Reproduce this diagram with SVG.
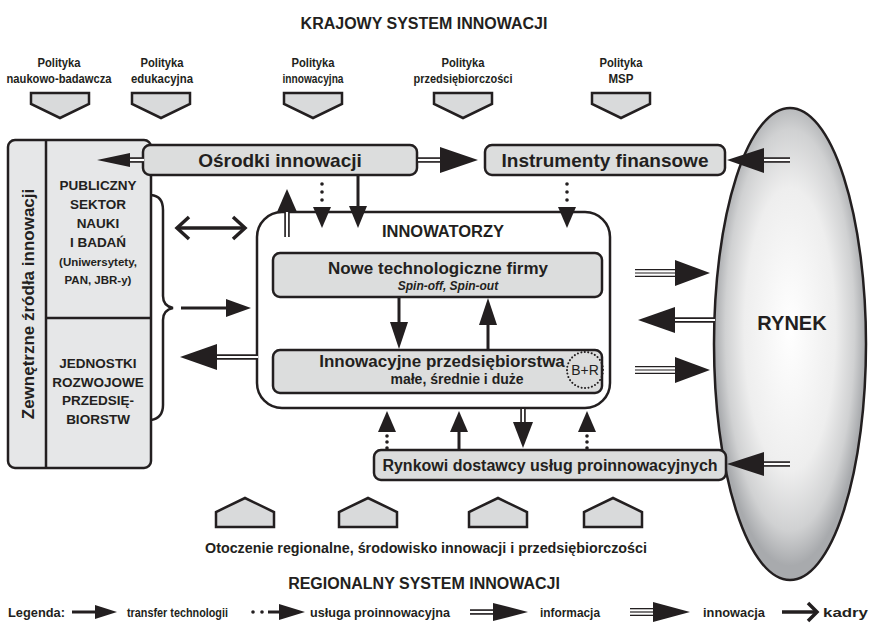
<svg xmlns="http://www.w3.org/2000/svg" width="872" height="632" viewBox="0 0 872 632">
<defs>
<radialGradient id="gR" cx="0.5" cy="0.47" r="0.5">
<stop offset="0" stop-color="#ffffff"/>
<stop offset="0.6" stop-color="#eeeeee"/>
<stop offset="0.85" stop-color="#d0d1d2"/>
<stop offset="1" stop-color="#a8aaad"/>
</radialGradient>
<style>
text{font-family:"Liberation Sans",Arial,sans-serif;font-weight:bold;fill:#231f20}
.c{text-anchor:middle}
.box{fill:#dcdddd;stroke:#231f20;stroke-width:2.5}
.pent{fill:#d9dadb;stroke:#231f20;stroke-width:2.5}
.ln{stroke:#231f20;stroke-width:3;fill:none}
.d1{stroke:#231f20;stroke-width:5.5}
.d2{stroke:#ffffff;stroke-width:2.2}
.t1{stroke:#231f20;stroke-width:8}
.t2{stroke:#ffffff;stroke-width:5.4}
.t3{stroke:#231f20;stroke-width:1.2}
.hd{fill:#231f20}
.kd{stroke:#231f20;stroke-width:3.5;fill:none}
.pol{font-size:13px}
.lg{font-size:13px}
</style>
</defs>
<rect width="872" height="632" fill="#ffffff"/>

<g id="title-krajowy">
<text class="c" x="424" y="29" font-size="16">KRAJOWY SYSTEM INNOWACJI</text>
</g>

<g id="polityka-naukowo">
<text class="c pol" x="59" y="67" textLength="43" lengthAdjust="spacingAndGlyphs">Polityka</text>
<text class="c pol" x="59" y="83" textLength="105" lengthAdjust="spacingAndGlyphs">naukowo-badawcza</text>
<polygon class="pent" points="31,93 89,93 89,104 60,118 31,104"/>
</g>
<g id="polityka-edukacyjna">
<text class="c pol" x="162" y="67" textLength="43" lengthAdjust="spacingAndGlyphs">Polityka</text>
<text class="c pol" x="162" y="83" textLength="62" lengthAdjust="spacingAndGlyphs">edukacyjna</text>
<polygon class="pent" points="132,93 190,93 190,104 161,118 132,104"/>
</g>
<g id="polityka-innowacyjna">
<text class="c pol" x="313" y="67" textLength="43" lengthAdjust="spacingAndGlyphs">Polityka</text>
<text class="c pol" x="313" y="83" textLength="61" lengthAdjust="spacingAndGlyphs">innowacyjna</text>
<polygon class="pent" points="284,93 342,93 342,104 313,118 284,104"/>
</g>
<g id="polityka-przedsiebiorczosci">
<text class="c pol" x="463" y="67" textLength="43" lengthAdjust="spacingAndGlyphs">Polityka</text>
<text class="c pol" x="463" y="83" textLength="99" lengthAdjust="spacingAndGlyphs">przedsiębiorczości</text>
<polygon class="pent" points="434,93 492,93 492,104 463,118 434,104"/>
</g>
<g id="polityka-msp">
<text class="c pol" x="621" y="67" textLength="43" lengthAdjust="spacingAndGlyphs">Polityka</text>
<text class="c pol" x="621" y="83" textLength="25" lengthAdjust="spacingAndGlyphs">MSP</text>
<polygon class="pent" points="592,93 650,93 650,104 621,118 592,104"/>
</g>

<g id="zrodla-zewnetrzne">
<rect x="8" y="140" width="143" height="328" rx="7" fill="#e6e7e8" stroke="#231f20" stroke-width="2.5"/>
<line x1="46" y1="140" x2="46" y2="468" stroke="#231f20" stroke-width="2.5"/>
<line x1="46" y1="318" x2="151" y2="318" stroke="#231f20" stroke-width="2.5"/>
<text class="c" font-size="17" transform="translate(33.5,304) rotate(-90)">Zewnętrzne źródła innowacji</text>
<text class="c" font-size="13.5" x="98" y="190">PUBLICZNY</text>
<text class="c" font-size="13.5" x="98" y="209">SEKTOR</text>
<text class="c" font-size="13.5" x="98" y="228">NAUKI</text>
<text class="c" font-size="13.5" x="98" y="247">I BADAŃ</text>
<text class="c" font-size="11.5" x="98" y="266">(Uniwersytety,</text>
<text class="c" font-size="11.5" x="98" y="284">PAN, JBR-y)</text>
<text class="c" font-size="13.5" x="98" y="368">JEDNOSTKI</text>
<text class="c" font-size="13.5" x="98" y="387">ROZWOJOWE</text>
<text class="c" font-size="13.5" x="98" y="405">PRZEDSIĘ-</text>
<text class="c" font-size="13.5" x="98" y="424">BIORSTW</text>
<path d="M151,195 Q163,196 163,210 L163,296 Q163,306 173,308 Q163,310 163,320 L163,405 Q163,418 151,420" fill="none" stroke="#231f20" stroke-width="2.5"/>
</g>

<g id="osrodki-innowacji">
<rect class="box" x="143" y="145" width="274" height="30" rx="7"/>
<text class="c" font-size="19" x="280" y="167">Ośrodki innowacji</text>
</g>

<g id="instrumenty-finansowe">
<rect class="box" x="485" y="145" width="240" height="30" rx="7"/>
<text class="c" font-size="19" x="605" y="167">Instrumenty finansowe</text>
</g>

<g id="rynek">
<ellipse cx="790" cy="344" rx="76" ry="236" fill="url(#gR)" stroke="#231f20" stroke-width="2.5"/>
<text class="c" font-size="20" x="792" y="330">RYNEK</text>
</g>

<g id="innowatorzy">
<rect x="257" y="212" width="353" height="196" rx="25" fill="#ffffff" stroke="#231f20" stroke-width="2.5"/>
<text class="c" font-size="16.5" x="443" y="237">INNOWATORZY</text>
</g>

<g id="nowe-firmy">
<rect class="box" x="273" y="253" width="329" height="44" rx="7"/>
<text class="c" font-size="17" x="438" y="274">Nowe technologiczne firmy</text>
<text class="c" font-size="12" font-style="italic" x="448" y="290">Spin-off, Spin-out</text>
</g>

<g id="innowacyjne-przedsiebiorstwa">
<rect class="box" x="273" y="350" width="329" height="43" rx="7"/>
<text class="c" font-size="17" x="442" y="367">Innowacyjne przedsiębiorstwa</text>
<text class="c" font-size="14" x="457" y="384">małe, średnie i duże</text>
<circle cx="585" cy="370" r="18" fill="none" stroke="#231f20" stroke-width="2" stroke-dasharray="0.1 3.4" stroke-linecap="round"/>
<text class="c" font-size="14" x="585" y="375" style="font-weight:normal">B+R</text>
</g>

<g id="rynkowi-dostawcy">
<rect class="box" x="374" y="450" width="352" height="30" rx="7"/>
<text class="c" font-size="16" x="550" y="471">Rynkowi dostawcy usług proinnowacyjnych</text>
</g>

<g id="otoczenie-regionalne">
<polygon class="pent" points="216,527 274,527 274,512 245,498 216,512"/>
<polygon class="pent" points="339,527 397,527 397,512 368,498 339,512"/>
<polygon class="pent" points="469,527 527,527 527,512 498,498 469,512"/>
<polygon class="pent" points="584,527 642,527 642,512 613,498 584,512"/>
<text class="c" font-size="14" x="426" y="553" textLength="442" lengthAdjust="spacingAndGlyphs">Otoczenie regionalne, środowisko innowacji i przedsiębiorczości</text>
</g>

<g id="title-regionalny">
<text class="c" font-size="16" x="424" y="589">REGIONALNY SYSTEM INNOWACJI</text>
</g>

<g id="connectors">
<line class="d1" x1="128" y1="160" x2="144" y2="160"/><line class="d2" x1="128" y1="160" x2="144" y2="160"/>
<polygon class="hd" points="97,160 130,153 130,167"/>
<line class="d1" x1="418" y1="160" x2="442" y2="160"/><line class="d2" x1="418" y1="160" x2="442" y2="160"/>
<polygon class="hd" points="440,147 478,160 440,173"/>
<line class="d1" x1="762" y1="160" x2="790" y2="160"/><line class="d2" x1="762" y1="160" x2="790" y2="160"/>
<polygon class="hd" points="727,160 764,148 764,173"/>
<line class="d1" x1="287" y1="210" x2="287" y2="237"/><line class="d2" x1="287" y1="210" x2="287" y2="237"/>
<polygon class="hd" points="287,189 277,212 297,212"/>
<circle class="hd" cx="322" cy="184" r="1.8"/><circle class="hd" cx="322" cy="192" r="1.8"/><circle class="hd" cx="322" cy="200" r="1.8"/>
<polygon class="hd" points="313,207 331,207 322,228"/>
<line class="ln" x1="358" y1="176" x2="358" y2="208"/>
<polygon class="hd" points="349,206 367,206 358,228"/>
<circle class="hd" cx="567" cy="184" r="1.8"/><circle class="hd" cx="567" cy="192" r="1.8"/><circle class="hd" cx="567" cy="200" r="1.8"/>
<polygon class="hd" points="558,207 576,207 567,228"/>
<line class="kd" x1="177" y1="228" x2="245" y2="228"/>
<polyline class="kd" points="189,217 177,228 189,239"/>
<polyline class="kd" points="233,217 245,228 233,239"/>
<line class="ln" x1="181" y1="308" x2="228" y2="308"/>
<polygon class="hd" points="226,299 251,308 226,317"/>
<line class="d1" x1="215" y1="357" x2="258" y2="357"/><line class="d2" x1="215" y1="357" x2="258" y2="357"/>
<polygon class="hd" points="180,357 217,344 217,370"/>
<line class="ln" x1="399" y1="297" x2="399" y2="324"/>
<polygon class="hd" points="390,322 408,322 399,349"/>
<line class="ln" x1="488" y1="350" x2="488" y2="323"/>
<polygon class="hd" points="479,325 497,325 488,298"/>
<line class="t1" x1="635" y1="273" x2="677" y2="273"/><line class="t2" x1="635" y1="273" x2="677" y2="273"/><line class="t3" x1="635" y1="273" x2="677" y2="273"/>
<polygon class="hd" points="675,260 710,273 675,286"/>
<line class="d1" x1="673" y1="320" x2="715" y2="320"/><line class="d2" x1="673" y1="320" x2="715" y2="320"/>
<polygon class="hd" points="638,320 675,307 675,333"/>
<line class="t1" x1="635" y1="370" x2="677" y2="370"/><line class="t2" x1="635" y1="370" x2="677" y2="370"/><line class="t3" x1="635" y1="370" x2="677" y2="370"/>
<polygon class="hd" points="675,357 710,370 675,383"/>
<line class="d1" x1="762" y1="464" x2="790" y2="464"/><line class="d2" x1="762" y1="464" x2="790" y2="464"/>
<polygon class="hd" points="727,464 764,452 764,476"/>
<polygon class="hd" points="387,411 378,432 396,432"/>
<circle class="hd" cx="387" cy="436" r="1.8"/><circle class="hd" cx="387" cy="442" r="1.8"/><circle class="hd" cx="387" cy="448" r="1.8"/>
<line class="ln" x1="459" y1="450" x2="459" y2="430"/>
<polygon class="hd" points="459,411 450,432 468,432"/>
<line class="d1" x1="523" y1="409" x2="523" y2="424"/><line class="d2" x1="523" y1="409" x2="523" y2="424"/>
<polygon class="hd" points="513,422 533,422 523,448"/>
<polygon class="hd" points="587,411 578,432 596,432"/>
<circle class="hd" cx="587" cy="436" r="1.8"/><circle class="hd" cx="587" cy="442" r="1.8"/><circle class="hd" cx="587" cy="448" r="1.8"/>
</g>

<g id="legenda">
<text class="lg" x="8" y="617" textLength="57" lengthAdjust="spacingAndGlyphs">Legenda:</text>
<line class="ln" x1="72" y1="612" x2="97" y2="612"/>
<polygon class="hd" points="95,605 117,612 95,619"/>
<text class="lg" x="127" y="617" textLength="101" lengthAdjust="spacingAndGlyphs">transfer technologii</text>
<circle class="hd" cx="253" cy="612" r="1.8"/><circle class="hd" cx="262" cy="612" r="1.8"/>
<line class="ln" x1="268" y1="612" x2="281" y2="612"/>
<polygon class="hd" points="279,604 305,612 279,620"/>
<text class="lg" x="310" y="617" textLength="140" lengthAdjust="spacingAndGlyphs">usługa proinnowacyjna</text>
<line class="d1" x1="470" y1="612" x2="495" y2="612"/><line class="d2" x1="470" y1="612" x2="495" y2="612"/>
<polygon class="hd" points="493,603 528,612 493,621"/>
<text class="lg" x="540" y="617" textLength="60" lengthAdjust="spacingAndGlyphs">informacja</text>
<line class="t1" x1="630" y1="612" x2="655" y2="612"/><line class="t2" x1="630" y1="612" x2="655" y2="612"/><line class="t3" x1="630" y1="612" x2="655" y2="612"/>
<polygon class="hd" points="653,602 690,612 653,622"/>
<text class="lg" x="703" y="617" textLength="62" lengthAdjust="spacingAndGlyphs">innowacja</text>
<line class="kd" x1="782" y1="612" x2="816" y2="612"/>
<polyline class="kd" points="808,603 817,612 808,621"/>
<text class="lg" x="823" y="617" textLength="45" lengthAdjust="spacingAndGlyphs">kadry</text>
</g>
</svg>
